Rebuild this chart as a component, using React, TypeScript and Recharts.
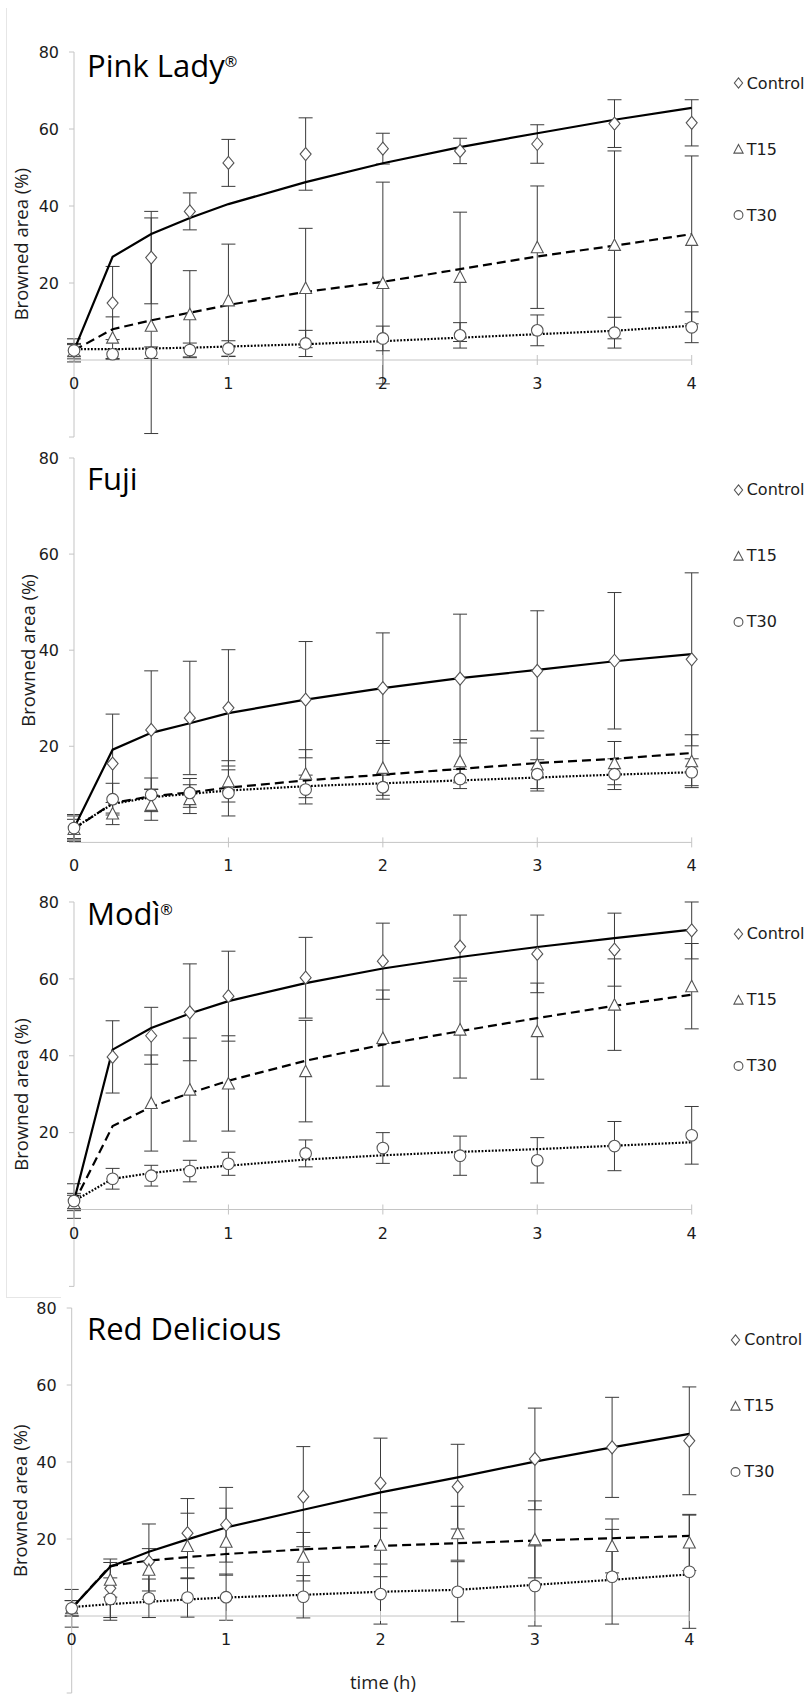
import React from "react";
import {
  ComposedChart,
  Line,
  XAxis,
  YAxis,
  ErrorBar,
  ReferenceLine,
  Legend,
} from "recharts";

// sampling times (h)
const times = [0, 0.25, 0.5, 0.75, 1, 1.5, 2, 2.5, 3, 3.5, 4];
const xTicks = [0, 1, 2, 3, 4];
const seriesNames = ["Control", "T15", "T30"];

// Pink Lady
const plControl = [2.5, 14.8, 26.6, 38.6, 51.2, 53.5, 54.9, 54.3, 56.1, 61.4, 61.6];
const plControlSd = [3.0, 9.5, 12.0, 4.8, 6.1, 9.4, 4.0, 3.3, 5.0, 6.2, 6.0];
const plControlFit = [2.5, 26.8, 32.7, 36.9, 40.5, 46.2, 51.1, 55.3, 58.9, 62.4, 65.5];
const plT15 = [2.3, 5.8, 8.9, 11.9, 15.5, 18.7, 20.0, 21.6, 29.3, 29.9, 31.2];
const plT15Sd = [2.0, 5.4, 28.0, 11.3, 14.6, 15.5, 26.2, 16.8, 15.9, 24.4, 21.8];
const plT15Fit = [2.5, 8.0, 10.3, 12.3, 14.3, 17.7, 20.3, 23.6, 26.9, 29.7, 32.7];
const plT30 = [2.5, 1.5, 1.9, 2.6, 3.0, 4.3, 5.6, 6.4, 7.7, 7.1, 8.5];
const plT30Sd = [1.5, 1.3, 1.5, 1.8, 2.0, 3.4, 3.2, 3.3, 4.0, 4.0, 4.0];
const plT30Fit = [2.8, 2.8, 3.0, 3.2, 3.5, 4.1, 4.9, 5.8, 6.7, 7.6, 8.9];

// Fuji
const fjControl = [3.0, 16.4, 23.4, 25.9, 28.0, 29.7, 32.1, 34.1, 35.7, 37.8, 38.1];
const fjControlSd = [2.8, 10.3, 12.3, 11.8, 12.1, 12.1, 11.5, 13.4, 12.5, 14.2, 18.0];
const fjControlFit = [3.0, 19.3, 22.8, 24.8, 26.9, 29.7, 32.1, 34.2, 35.9, 37.7, 39.2];
const fjT15 = [2.8, 6.0, 7.8, 9.0, 12.7, 14.3, 15.5, 16.9, 16.2, 16.5, 16.9];
const fjT15Sd = [2.0, 2.3, 3.2, 3.0, 4.3, 5.0, 5.7, 4.5, 5.5, 4.5, 5.5];
const fjT15Fit = [2.8, 8.2, 9.6, 10.4, 11.4, 12.9, 14.1, 15.3, 16.5, 17.4, 18.6];
const fjT30 = [3.0, 9.0, 9.9, 10.3, 10.3, 11.0, 11.5, 13.2, 14.2, 14.2, 14.6];
const fjT30Sd = [2.5, 3.3, 3.5, 3.0, 4.8, 3.0, 2.5, 2.0, 3.0, 3.2, 2.8];
const fjT30Fit = [3.0, 8.0, 9.4, 10.1, 10.8, 11.7, 12.3, 12.9, 13.5, 14.1, 14.6];

// Modì
const mdControl = [2.2, 39.7, 45.2, 51.3, 55.5, 60.3, 64.6, 68.4, 66.5, 67.6, 72.6];
const mdControlSd = [4.5, 9.4, 7.4, 12.6, 11.7, 10.5, 9.9, 8.2, 10.1, 9.5, 7.4];
const mdControlFit = [2.2, 41.6, 47.2, 51.0, 54.2, 58.9, 62.7, 65.7, 68.3, 70.6, 72.8];
const mdT15 = [1.7, null, 27.7, 31.2, 32.8, 36.0, 44.6, 46.8, 46.4, 53.3, 58.1];
const mdT15Sd = [2.0, null, 12.5, 13.4, 12.4, 13.2, 12.5, 12.6, 12.5, 11.9, 11.1];
const mdT15Fit = [1.7, 21.7, 26.7, 30.3, 33.5, 38.7, 42.9, 46.4, 49.8, 53.0, 55.9];
const mdT30 = [2.2, 8.0, 8.8, 10.0, 11.9, 14.6, 16.0, 14.0, 12.8, 16.5, 19.3];
const mdT30Sd = [2.0, 2.7, 2.7, 2.8, 3.0, 3.5, 4.0, 5.1, 5.9, 6.4, 7.5];
const mdT30Fit = [2.2, 8.0, 9.5, 10.6, 11.4, 13.0, 14.1, 15.0, 15.7, 16.6, 17.5];

// Red Delicious
const rdControl = [2.0, 7.2, 14.1, 21.5, 23.7, 31.0, 34.5, 33.6, 40.8, 43.8, 45.5];
const rdControlSd = [4.9, 7.6, 9.8, 9.0, 9.7, 13.0, 11.7, 11.0, 13.2, 13.0, 14.0];
const rdControlFit = [2.0, 12.8, 16.7, 19.9, 23.0, 27.6, 32.1, 36.0, 40.1, 43.8, 47.3];
const rdT15 = [2.0, 9.4, 12.0, 18.2, 19.3, 15.4, 18.5, 21.5, 19.9, 18.2, 19.1];
const rdT15Sd = [2.0, 4.5, 5.5, 8.5, 8.7, 6.3, 8.3, 7.0, 10.0, 7.0, 7.3];
const rdT15Fit = [2.0, 13.0, 14.4, 15.3, 16.1, 17.3, 18.2, 18.9, 19.6, 20.2, 20.8];
const rdT30 = [2.0, 4.4, 4.6, 4.8, 4.9, 5.0, 5.7, 6.3, 7.8, 10.2, 11.5];
const rdT30Sd = [2.0, 5.5, 5.0, 5.1, 6.0, 5.5, 7.8, 7.8, 10.4, 12.3, 14.7];
const rdT30Fit = [2.3, 3.1, 3.7, 4.3, 4.8, 5.5, 6.3, 6.8, 8.1, 9.4, 10.8];

const AXIS = "#c4c4c4";
const BAR = "#3a3a3a";
const MARK = "#555";
const INK = "#1c1c1c";
const TICK_FONT = "'DejaVu Sans', Verdana, sans-serif";
const LABEL_FONT = "'Open Sans', sans-serif";

const panels = [
  {
    title: "Pink Lady", sup: "®",
    s: [plControl, plT15, plT30], sd: [plControlSd, plT15Sd, plT30Sd], fit: [plControlFit, plT15Fit, plT30Fit],
    yMin: -20, plotTop: 51.7, plotBottom: 436.7, xLeft: 74, xRight: 691.7, titleBase: 77.3, labelX: 20,
  },
  {
    title: "Fuji", sup: "",
    s: [fjControl, fjT15, fjT30], sd: [fjControlSd, fjT15Sd, fjT30Sd], fit: [fjControlFit, fjT15Fit, fjT30Fit],
    yMin: 0, plotTop: 458.3, plotBottom: 842.7, xLeft: 74, xRight: 691.7, titleBase: 490, labelX: 27,
  },
  {
    title: "Modì", sup: "®",
    s: [mdControl, mdT15, mdT30], sd: [mdControlSd, mdT15Sd, mdT30Sd], fit: [mdControlFit, mdT15Fit, mdT30Fit],
    yMin: -20, plotTop: 902.3, plotBottom: 1286.7, xLeft: 74, xRight: 691.7, titleBase: 925, labelX: 20,
  },
  {
    title: "Red Delicious", sup: "",
    s: [rdControl, rdT15, rdT30], sd: [rdControlSd, rdT15Sd, rdT30Sd], fit: [rdControlFit, rdT15Fit, rdT30Fit],
    yMin: -20, plotTop: 1308.3, plotBottom: 1693.3, xLeft: 71.7, xRight: 689.3, titleBase: 1340, labelX: 19,
  },
];

const keys = ["c", "a", "b"];

function Marker({ kind, cx, cy, big }: any) {
  const h = big ? 6 : 4.6;
  if (kind === 0) {
    return (
      <path
        d={`M${cx} ${cy - h - 0.5} L${cx + h - 0.5} ${cy} L${cx} ${cy + h + 0.5} L${cx - h + 0.5} ${cy} Z`}
        fill="#fff" stroke={MARK} strokeWidth={1.1}
      />
    );
  }
  if (kind === 1) {
    return (
      <path
        d={`M${cx} ${cy - h} L${cx + h} ${cy + h - 0.5} L${cx - h} ${cy + h - 0.5} Z`}
        fill="#fff" stroke={MARK} strokeWidth={1.1}
      />
    );
  }
  return <circle cx={cx} cy={cy} r={h - 0.2} fill="#fff" stroke={MARK} strokeWidth={1.1} />;
}

const makeDot = (kind: number) => (p: any) => {
  const k = `m${kind}-${p.index}`;
  if (p.cy == null || p.value == null || isNaN(p.cy)) return <g key={k} />;
  return <g key={k}><Marker kind={kind} cx={p.cx} cy={p.cy} big /></g>;
};

function TimeTick({ x, y, payload, drop }: any) {
  const y0 = y - drop;
  return (
    <g>
      {payload.value !== 0 && <line x1={x} x2={x} y1={y0 - 5} y2={y0 + 5} stroke={AXIS} />}
      <text x={x} y={y0 + 29} textAnchor="middle" fontFamily={TICK_FONT} fontSize={16} fill={INK}>
        {payload.value}
      </text>
    </g>
  );
}

function SeriesKey() {
  return (
    <div style={{ fontFamily: TICK_FONT, fontSize: 16, color: INK }}>
      {seriesNames.map((n, i) => (
        <div key={n} style={{ height: 66, display: "flex", alignItems: "center" }}>
          <svg width={11} height={12} style={{ marginRight: 3 }}>
            <Marker kind={i} cx={5.5} cy={6} />
          </svg>
          <span>{n}</span>
        </div>
      ))}
    </div>
  );
}

function Panel({ p }: any) {
  const plotH = p.plotBottom - p.plotTop;
  const drop = (plotH * (0 - p.yMin)) / (80 - p.yMin);
  const yTicks = p.yMin < 0 ? [-20, 0, 20, 40, 60, 80] : [0, 20, 40, 60, 80];
  const data = times.map((t, i) => {
    const row: any = { t };
    keys.forEach((k, j) => {
      row[k] = p.s[j][i];
      row[k + "Sd"] = p.sd[j][i];
      row[k + "Fit"] = p.fit[j][i];
    });
    return row;
  });
  const dashes = [undefined, "9 5", "1.8 1.6"];
  return (
    <div style={{ position: "absolute", left: 0, top: p.plotTop - 10 }}>
      <ComposedChart
        width={810}
        height={plotH + 50}
        data={data}
        margin={{ top: 10, right: 810 - p.xRight, bottom: 10, left: p.xLeft - 60 }}
      >
        <XAxis
          type="number"
          dataKey="t"
          domain={[0, 4]}
          ticks={xTicks}
          interval={0}
          axisLine={false}
          tickLine={false}
          tickSize={0}
          tickMargin={0}
          height={30}
          tick={(tp: any) => <TimeTick {...tp} drop={drop} />}
        />
        <YAxis
          type="number"
          domain={[p.yMin, 80]}
          ticks={yTicks}
          allowDataOverflow
          width={60}
          tickSize={5}
          tickMargin={10}
          axisLine={{ stroke: AXIS }}
          tickLine={{ stroke: AXIS }}
          tickFormatter={(v: number) => (v > 0 ? String(v) : "")}
          tick={{ fontFamily: TICK_FONT, fontSize: 16, fill: INK }}
        />
        <ReferenceLine y={0} stroke={AXIS} strokeWidth={1} />
        {keys.map((k, j) => (
          <Line
            key={k}
            dataKey={k}
            stroke="none"
            legendType="none"
            isAnimationActive={false}
            activeDot={false}
            dot={makeDot(j)}
          >
            <ErrorBar dataKey={k + "Sd"} width={7} stroke={BAR} strokeWidth={1} />
          </Line>
        ))}
        {keys.map((k, j) => (
          <Line
            key={k + "Fit"}
            dataKey={k + "Fit"}
            stroke="#000"
            strokeWidth={2.2}
            strokeDasharray={dashes[j]}
            dot={false}
            activeDot={false}
            legendType="none"
            isAnimationActive={false}
          />
        ))}
        <Legend
          layout="horizontal"
          verticalAlign="middle"
          align="center"
          content={() => <SeriesKey />}
          wrapperStyle={{ left: p.xRight + 41, top: 8.5, width: 90, height: 200 }}
        />
      </ComposedChart>
    </div>
  );
}

export default function App() {
  return (
    <div style={{ position: "absolute", left: 0, top: 0, width: 810, height: 1695, overflow: "hidden", background: "#fff" }}>
      <div style={{ position: "absolute", left: 6, top: 8, width: 54, height: 1289, borderLeft: "1px solid #e6e6e6", borderBottom: "1px solid #e6e6e6" }} />
      {panels.map((p) => (
        <Panel key={p.title} p={p} />
      ))}
      <svg width={810} height={1695} style={{ position: "absolute", left: 0, top: 0, pointerEvents: "none" }}>
        {panels.map((p) => (
          <g key={p.title}>
            <text x={87} y={p.titleBase} fontFamily={LABEL_FONT} fontSize={31} fill="#000">
              {p.title}
              {p.sup && (
                <tspan fontSize={15} dy={-10.5}>{p.sup}</tspan>
              )}
            </text>
            <text
              transform={`translate(${p.labelX}, ${(p.plotTop + p.plotBottom) / 2}) rotate(-90)`}
              textAnchor="middle"
              dominantBaseline="central"
              fontFamily={LABEL_FONT}
              fontSize={18.5}
              fill={INK}
            >
              Browned area (%)
            </text>
          </g>
        ))}
        <text x={350} y={1689} fontFamily={LABEL_FONT} fontSize={18.5} fill={INK}>
          time (h)
        </text>
      </svg>
    </div>
  );
}
